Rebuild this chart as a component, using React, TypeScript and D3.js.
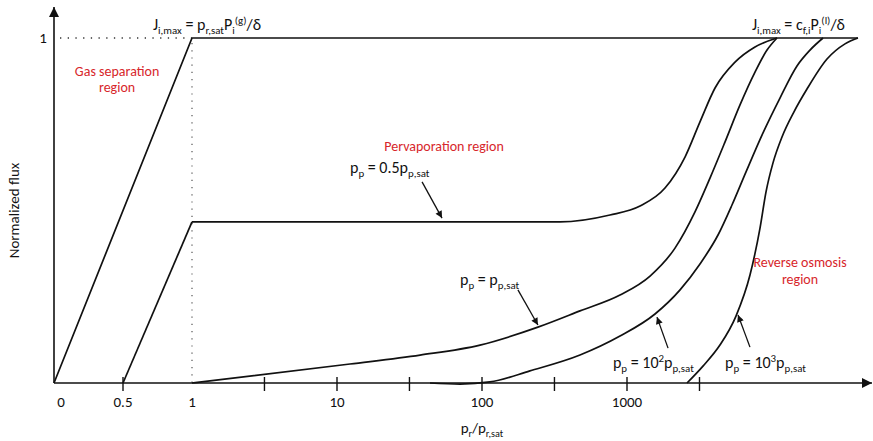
import { useRef, useEffect } from 'react'
import { select, scaleLinear, scaleLog, line, curveMonotoneX, curveLinear } from 'd3'

// x values are p_r/p_r,sat (0..1 linear part, log above 1), y is normalized flux
const gasCurve = [[0, 0], [1, 1], [39170, 1]]
const halfLinear = [[0.5, 0], [1, 0.467]]
const halfCurve = [
  [1, 0.467], [345, 0.467], [763, 0.487], [1230, 0.513], [1828, 0.565], [2512, 0.655],
  [3187, 0.757], [4046, 0.855], [5559, 0.93], [7634, 0.974], [10820, 1],
]
const satCurve = [
  [1, 0], [12.3, 0.055], [37.4, 0.081], [96.9, 0.11], [243, 0.162], [474, 0.209],
  [895, 0.255], [1442, 0.31], [2143, 0.391], [2944, 0.496], [3735, 0.594],
  [4745, 0.699], [6017, 0.806], [7634, 0.901], [9240, 0.965], [10820, 1],
]
const curve100 = [
  [43.8, 0], [70.5, -0.003], [113.5, 0.003], [214, 0.035], [474, 0.081], [895, 0.136],
  [1560, 0.2], [2322, 0.27], [3187, 0.345], [4243, 0.429], [5297, 0.516], [6620, 0.612],
  [8670, 0.725], [11350, 0.826], [14870, 0.919], [18290, 0.965], [22480, 1],
]
const curve1000 = [
  [2594, 0], [3342, 0.049], [4375, 0.11], [5645, 0.194], [7050, 0.313], [8266, 0.449],
  [9094, 0.554], [10160, 0.638], [11720, 0.713], [14180, 0.786], [17430, 0.852],
  [23950, 0.939], [31870, 0.983], [39170, 1],
]

const tickValues = [0.5, 3.16, 10, 31.6, 100, 316, 1000, 3162]
const tickLabels = [[0, '0'], [0.5, '0.5'], [1, '1'], [10, '10'], [100, '100'], [1000, '1000']]

const redColor = '#d7262b'
const fontFamily = 'Carlito, Calibri, Lato, sans-serif'

type Part = [string, string]

const App = () => {
  const svgRef = useRef(null)

  function richText(g, x, y, parts: Part[], size: number, anchor = 'start', color = '#111') {
    const t = g
      .append('text')
      .attr('x', x)
      .attr('y', y)
      .attr('font-size', size)
      .attr('text-anchor', anchor)
      .attr('fill', color)
    let shift = 0
    parts.forEach(([s, kind]) => {
      const target = kind === 'sub' ? size * 0.27 : kind === 'sup' ? -size * 0.4 : 0
      t.append('tspan')
        .attr('dy', target - shift)
        .attr('font-size', kind ? size * 0.68 : size)
        .text(s)
      shift = target
    })
    return t
  }

  function renderChart() {
    const svg = select(svgRef.current)
    svg.selectAll('*').remove()
    const width = 873

    const xLin = scaleLinear().domain([0, 1]).range([54, 192])
    const xLog = scaleLog().domain([1, 1000]).range([192, 627])
    const x = (v: number) => (v <= 1 ? xLin(v) : xLog(v))
    const y = scaleLinear().domain([0, 1]).range([383, 38])

    const g = svg.append('g').attr('font-family', fontFamily)

    const defs = svg.append('defs')
    const addMarker = (id: string, w: number, h: number) =>
      defs
        .append('marker')
        .attr('id', id)
        .attr('viewBox', '0 0 10 10')
        .attr('refX', 10)
        .attr('refY', 5)
        .attr('markerWidth', w)
        .attr('markerHeight', h)
        .attr('markerUnits', 'userSpaceOnUse')
        .attr('orient', 'auto')
        .append('path')
        .attr('d', 'M0,0L10,5L0,10z')
        .attr('fill', '#111')
    addMarker('arrow', 9, 7)
    addMarker('axisArrow', 11, 10)

    // dotted guides at x = 1 and y = 1
    g.append('line')
      .attr('x1', x(0) + 6).attr('x2', x(1))
      .attr('y1', y(1)).attr('y2', y(1))
      .attr('stroke', '#333').attr('stroke-width', 1.3)
      .attr('stroke-dasharray', '1.3,6.4')
    g.append('line')
      .attr('x1', x(1)).attr('x2', x(1))
      .attr('y1', y(1) + 5).attr('y2', y(0))
      .attr('stroke', '#555').attr('stroke-width', 1.2)
      .attr('stroke-dasharray', '1.2,6')

    // axes
    g.append('line')
      .attr('x1', x(0)).attr('x2', x(0))
      .attr('y1', y(0)).attr('y2', 7)
      .attr('stroke', '#111').attr('stroke-width', 1.6)
      .attr('marker-end', 'url(#axisArrow)')
    g.append('line')
      .attr('x1', x(0)).attr('x2', width - 1)
      .attr('y1', y(0)).attr('y2', y(0))
      .attr('stroke', '#111').attr('stroke-width', 1.6)
      .attr('marker-end', 'url(#axisArrow)')

    g.selectAll('.tick')
      .data(tickValues)
      .join('line')
      .attr('class', 'tick')
      .attr('x1', (d) => x(d)).attr('x2', (d) => x(d))
      .attr('y1', y(0) - 6).attr('y2', y(0) + 8)
      .attr('stroke', '#111').attr('stroke-width', 1.4)

    g.selectAll('.tick-label')
      .data(tickLabels)
      .join('text')
      .attr('class', 'tick-label')
      .attr('x', (d) => x(d[0]) + (d[0] === 0 ? 7 : 0))
      .attr('y', y(0) + 24)
      .attr('text-anchor', 'middle')
      .attr('font-size', 15)
      .attr('fill', '#111')
      .text((d) => d[1])

    g.append('text')
      .attr('x', x(0) - 11).attr('y', y(1) + 5)
      .attr('text-anchor', 'middle')
      .attr('font-size', 15)
      .attr('fill', '#111')
      .text('1')

    g.append('text')
      .attr('transform', `translate(19, ${(y(0) + y(1)) / 2}) rotate(-90)`)
      .attr('text-anchor', 'middle')
      .attr('font-size', 15)
      .attr('fill', '#111')
      .text('Normalized flux')

    richText(g, x(100), 433, [['p', ''], ['r', 'sub'], ['/p', ''], ['r,sat', 'sub']], 15, 'middle')

    // curves
    const straight = line<number[]>().x((d) => x(d[0])).y((d) => y(d[1])).curve(curveLinear)
    const smooth = line<number[]>().x((d) => x(d[0])).y((d) => y(d[1])).curve(curveMonotoneX)
    const curves = [
      straight(gasCurve), straight(halfLinear), smooth(halfCurve),
      smooth(satCurve), smooth(curve100), smooth(curve1000),
    ]
    g.selectAll('.curve')
      .data(curves)
      .join('path')
      .attr('class', 'curve')
      .attr('d', (d) => d)
      .attr('fill', 'none')
      .attr('stroke', '#111')
      .attr('stroke-width', 1.7)
      .attr('stroke-linejoin', 'round')

    // annotations
    richText(g, x(0.717), y(1.023), [['J', ''], ['i,max', 'sub'], [' = p', ''], ['r,sat', 'sub'], ['P', ''], ['i', 'sub'], ['(g)', 'sup'], ['/δ', '']], 16)
    richText(g, x(31870), y(1.023), [['J', ''], ['i,max', 'sub'], [' = c', ''], ['f,i', 'sub'], ['P', ''], ['i', 'sub'], ['(l)', 'sup'], ['/δ', '']], 16, 'end')

    const redText = (v: number, f: number, s: string) =>
      g.append('text')
        .attr('x', x(v)).attr('y', y(f))
        .attr('text-anchor', 'middle')
        .attr('font-size', 14)
        .attr('fill', redColor)
        .text(s)
    redText(0.457, 0.89, 'Gas separation')
    redText(0.457, 0.843, 'region')
    redText(54.7, 0.672, 'Pervaporation region')
    redText(15600, 0.336, 'Reverse osmosis')
    redText(15600, 0.287, 'region')

    richText(g, x(12.3), y(0.609), [['p', ''], ['p', 'sub'], [' = 0.5p', ''], ['p,sat', 'sub']], 16)
    richText(g, x(70.5), y(0.284), [['p', ''], ['p', 'sub'], [' = p', ''], ['p,sat', 'sub']], 16)
    richText(g, x(800), y(0.043), [['p', ''], ['p', 'sub'], [' = 10', ''], ['2', 'sup'], ['p', ''], ['p,sat', 'sub']], 16)
    richText(g, x(4745), y(0.043), [['p', ''], ['p', 'sub'], [' = 10', ''], ['3', 'sup'], ['p', ''], ['p,sat', 'sub']], 16)

    const arrows = [
      [[38.6, 0.583], [53, 0.478]],
      [[177, 0.27], [243, 0.168]],
      [[1919, 0.101], [1610, 0.191]],
      [[7050, 0.104], [5830, 0.197]],
    ]
    g.selectAll('.pointer')
      .data(arrows)
      .join('line')
      .attr('class', 'pointer')
      .attr('x1', (d) => x(d[0][0])).attr('y1', (d) => y(d[0][1]))
      .attr('x2', (d) => x(d[1][0])).attr('y2', (d) => y(d[1][1]))
      .attr('stroke', '#111')
      .attr('stroke-width', 1.3)
      .attr('marker-end', 'url(#arrow)')
  }

  useEffect(() => {
    renderChart()
  }, [])

  return (
    <div style={{ position: 'absolute', left: 0, top: 0 }}>
      <svg width="873" height="441" ref={svgRef} style={{ display: 'block', background: '#fff' }}></svg>
    </div>
  )
}

export default App
